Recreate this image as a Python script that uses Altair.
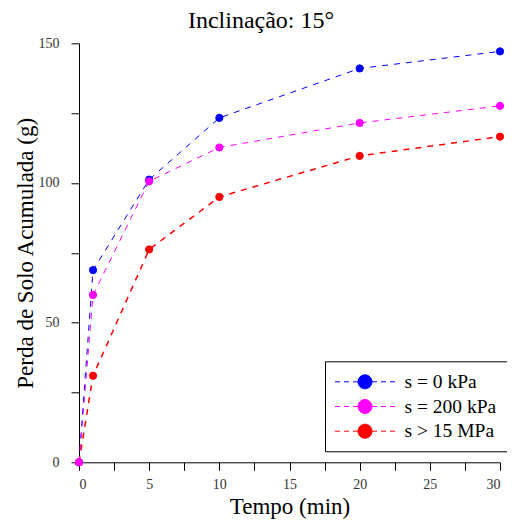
import altair as alt
import pandas as pd

# ---- data ----
tempo = [0, 1, 5, 10, 20, 30]
s_0kpa = [0, 68.8, 101.2, 123.3, 141.0, 147.1]
s_200kpa = [0, 59.9, 100.6, 112.7, 121.5, 127.6]
s_15mpa = [0, 31.0, 76.2, 95.0, 109.7, 116.6]
series_names = ["s = 0 kPa", "s = 200 kPa", "s > 15 MPa"]
series_colors = ["#0000ff", "#ff00ff", "#ff0000"]
series_widths = [1, 1, 1.5]
x_ticks = [0, 2.5, 5, 7.5, 10, 12.5, 15, 17.5, 20, 22.5, 25, 27.5, 30]
y_ticks = [0, 25, 50, 75, 100, 125, 150]

rows = []
# drawing order: blue, red, magenta (magenta on top)
for name, vals in [(series_names[0], s_0kpa), (series_names[2], s_15mpa), (series_names[1], s_200kpa)]:
    for t, v in zip(tempo, vals):
        rows.append({"tempo": t, "perda": v, "serie": name})
df = pd.DataFrame(rows)

FONT = "Liberation Serif"

# legend symbol: dashed line with a dot in the middle (units of 10 px)
LEGEND_SYMBOL = (
    "M-3,0L-2.5,0M-2.1,0L-1.6,0M-1.2,0L-0.7,0"
    "M0.7,0L1.2,0M1.6,0L2.1,0M2.5,0L3,0"
    "M-0.7,0A0.7,0.7,0,1,0,0.7,0A0.7,0.7,0,1,0,-0.7,0Z"
)


def make_legend():
    return alt.Legend(
        title=None,
        orient="none",
        legendX=246,
        legendY=318,
        symbolType=LEGEND_SYMBOL,
        symbolSize=400,
        symbolStrokeWidth=1,
        symbolOpacity=1,
        symbolOffset=19.5,
        labelOffset=29,
        labelFont=FONT,
        labelFontSize=19.5,
        labelColor="black",
        padding=10,
        rowPadding=4.7,
        strokeColor="black",
        fillColor="white",
        labelLimit=0,
    )


x_enc = alt.X(
    "tempo:Q",
    scale=alt.Scale(domain=[0, 30], nice=False, zero=False),
    axis=alt.Axis(
        values=x_ticks,
        labelExpr="datum.value % 5 == 0 ? datum.label : ''",
        title="Tempo (min)",
        labelPadding=7,
        titlePadding=4,
    ),
)
y_enc = alt.Y(
    "perda:Q",
    scale=alt.Scale(domain=[0, 150], nice=False),
    axis=alt.Axis(
        values=y_ticks,
        labelExpr="datum.value % 50 == 0 ? datum.label : ''",
        title="Perda de Solo Acumulada (g)",
        labelPadding=12,
        titlePadding=1,
    ),
)

base = alt.Chart(df)

line_layers = []
for name, col, w in zip(series_names, series_colors, series_widths):
    line_layers.append(
        base.transform_filter(alt.datum.serie == name)
        .mark_line(color=col, strokeWidth=w, strokeDash=[6, 6])
        .encode(x=x_enc, y=y_enc)
    )
# blue, red, magenta drawing order
line_layers = [line_layers[0], line_layers[2], line_layers[1]]

points = base.mark_circle(size=52, opacity=1, strokeWidth=1).encode(
    x=x_enc,
    y=y_enc,
    color=alt.Color(
        "serie:N",
        scale=alt.Scale(domain=series_names, range=series_colors),
        legend=make_legend(),
    ),
    stroke=alt.Stroke(
        "serie:N",
        scale=alt.Scale(domain=series_names, range=series_colors),
        legend=make_legend(),
    ),
)

chart = (
    alt.layer(*line_layers, points)
    .properties(
        width=421,
        height=419,
        autosize=alt.AutoSizeParams(type="none"),
        padding={"left": 71, "top": 35.3, "right": 7, "bottom": 56.7},
        title=alt.TitleParams(
            "Inclinação: 15°",
            font=FONT,
            fontSize=24,
            fontWeight="normal",
            color="black",
            anchor="middle",
            dx=-28.5,
            offset=3,
        ),
    )
    .configure_view(stroke=None)
    .configure_axis(
        grid=False,
        domainColor="black",
        domainWidth=1,
        tickColor="black",
        tickWidth=1,
        tickSize=8,
        labelFont=FONT,
        labelFontSize=14,
        labelColor="#333333",
        titleFont=FONT,
        titleFontSize=23,
        titleFontWeight="normal",
        titleColor="black",
    )
)

chart.save("out.html", embed_options={"renderer": "svg", "actions": False})
